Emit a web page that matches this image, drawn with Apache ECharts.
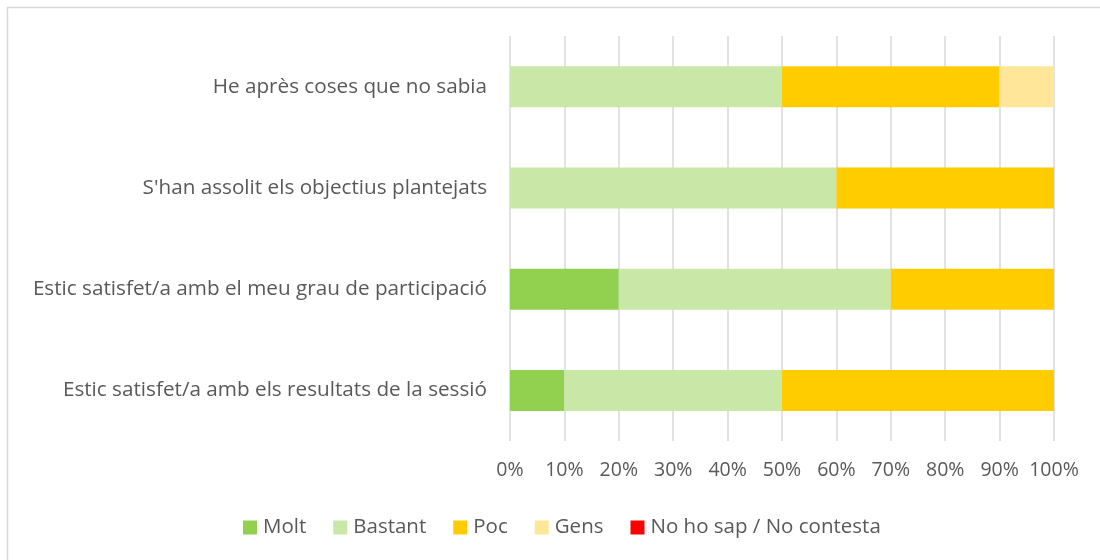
<!DOCTYPE html>
<html>
<head>
<meta charset="utf-8">
<script src="https://cdn.jsdelivr.net/npm/echarts@6/dist/echarts.min.js"></script>
<style>
html,body{margin:0;padding:0;background:#fff;}
#chart{width:1100px;height:560px;}
</style>
</head>
<body>
<div id="chart"></div>
<script>
const categories = [
  "Estic satisfet/a amb els resultats de la sessió",
  "Estic satisfet/a amb el meu grau de participació",
  "S'han assolit els objectius plantejats",
  "He après coses que no sabia"
];
const seriesNames = ["Molt", "Bastant", "Poc", "Gens", "No ho sap / No contesta"];
const molt    = [10, 20, 0, 0];
const bastant = [40, 50, 60, 50];
const poc     = [50, 30, 40, 40];
const gens    = [0, 0, 0, 10];
const nsnc    = [0, 0, 0, 0];
const colors = ["#92D050", "#C9E7A7", "#FFCC00", "#FFE699", "#FF0000"];
const values = [molt, bastant, poc, gens, nsnc];

const font = "'Open Sans', sans-serif";
const chart = echarts.init(document.getElementById('chart'), null, {renderer: 'canvas'});
chart.setOption({
  animation: false,
  graphic: [{
    type: 'rect',
    shape: {x: 7.5, y: 7.5, width: 1100, height: 560},
    style: {fill: 'none', stroke: '#D9D9D9', lineWidth: 1.5}
  }],
  grid: {left: 510, right: 46, top: 36, bottom: 119, containLabel: false},
  legend: {
    left: 238, top: 512,
    itemWidth: 14, itemHeight: 14, itemGap: 27,
    icon: 'rect',
    textStyle: {fontFamily: font, fontSize: 20.5, color: '#595959', padding: [0, 0, 0, 1]},
    data: seriesNames
  },
  xAxis: {
    type: 'value', min: 0, max: 100, interval: 10,
    axisLine: {show: false}, axisTick: {show: false},
    splitLine: {show: true, lineStyle: {color: '#D9D9D9', width: 1.5}},
    axisLabel: {formatter: '{value}%', margin: 19, fontFamily: font, fontSize: 19.5, color: '#595959'}
  },
  yAxis: {
    type: 'category', data: categories,
    axisLine: {show: false}, axisTick: {show: false},
    axisLabel: {margin: 23, fontFamily: font, fontSize: 20.7, color: '#595959'}
  },
  series: seriesNames.map((n, i) => ({
    name: n, type: 'bar', stack: 'total', data: values[i],
    barWidth: 41,
    itemStyle: {color: colors[i]}
  }))
});
</script>
</body>
</html>
